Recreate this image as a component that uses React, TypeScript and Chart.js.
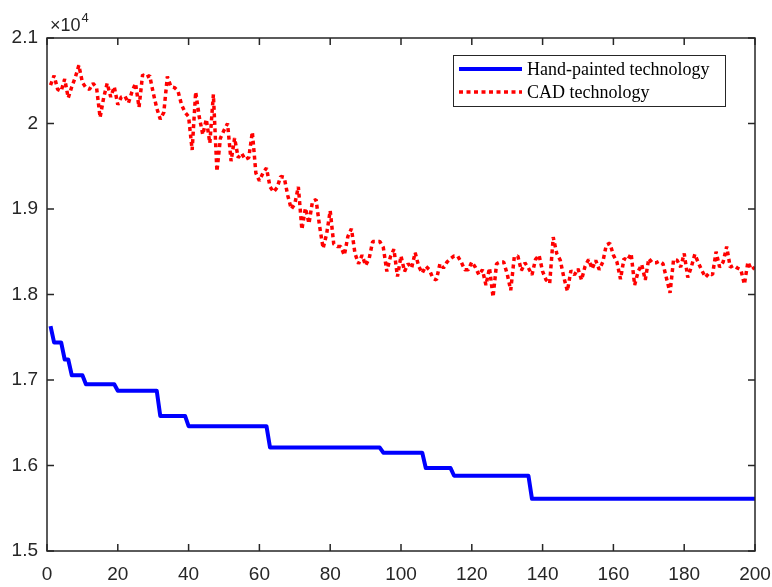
import React, { useEffect, useRef } from "react";
import { Chart, registerables } from "chart.js";

Chart.register(...registerables);

// ---------- data ----------
const xTicks = [0, 20, 40, 60, 80, 100, 120, 140, 160, 180, 200];
const yTicks = [15000, 16000, 17000, 18000, 19000, 20000, 21000];
const seriesLabels = ["Hand-painted technology", "CAD technology"];
const exponentLabel = "\u00d710";
const exponentPower = "4";

// Hand-painted technology: corner points of the step curve
const handX = [1, 2, 4, 5, 6, 7, 10, 11, 19, 20, 31, 32, 39, 40, 62, 63, 94, 95, 106, 107, 114, 115, 136, 137, 200];
const handY = [17630, 17440, 17440, 17240, 17240, 17055, 17055, 16950, 16950, 16875, 16875, 16580, 16580, 16460, 16460, 16210, 16210, 16150, 16150, 15970, 15970, 15880, 15880, 15610, 15610];

// CAD technology: one value per iteration 1..200
const cadY = [
  20450, 20560, 20400, 20380, 20520, 20300, 20430, 20540, 20680, 20480,
  20420, 20400, 20470, 20420, 20070, 20300, 20470, 20310, 20430, 20220,
  20310, 20320, 20240, 20370, 20470, 20190, 20570, 20540, 20560, 20360,
  20180, 20050, 20130, 20550, 20430, 20420, 20380, 20220, 20130, 20080,
  19690, 20370, 20080, 19870, 20050, 19770, 20340, 19440, 19830, 19920,
  20000, 19560, 19830, 19600, 19650, 19580, 19600, 19900, 19420, 19330,
  19420, 19480, 19260, 19200, 19250, 19380, 19370, 19160, 19000, 19060,
  19260, 18760, 19010, 18830, 19090, 19110, 18800, 18540, 18710, 18980,
  18590, 18560, 18560, 18460, 18680, 18770, 18480, 18360, 18460, 18340,
  18420, 18620, 18620, 18620, 18550, 18270, 18440, 18530, 18210, 18450,
  18270, 18360, 18310, 18490, 18330, 18250, 18330, 18290, 18190, 18170,
  18360, 18310, 18380, 18420, 18450, 18450, 18380, 18290, 18290, 18380,
  18320, 18230, 18290, 18110, 18310, 17970, 18360, 18380, 18380, 18240,
  18050, 18440, 18450, 18280, 18370, 18310, 18230, 18410, 18460, 18270,
  18170, 18130, 18670, 18480, 18400, 18200, 18040, 18280, 18230, 18300,
  18170, 18330, 18410, 18300, 18400, 18290, 18380, 18580, 18600, 18460,
  18380, 18180, 18420, 18400, 18480, 18110, 18270, 18350, 18170, 18420,
  18370, 18370, 18390, 18360, 18190, 18020, 18410, 18400, 18320, 18480,
  18200, 18320, 18470, 18370, 18280, 18200, 18250, 18230, 18500, 18320,
  18380, 18560, 18320, 18340, 18310, 18290, 18120, 18380, 18290, 18320,
];

const AXIS_COLOR = "#262626";
const SANS = '"Liberation Sans", Arial, Helvetica, sans-serif';
const SERIF = '"Liberation Serif", "Times New Roman", serif';

const matlabPlugin = {
  id: "matlabFrame",
  afterDraw(chart: any) {
    const { ctx, chartArea: a, scales } = chart;
    ctx.save();
    // box
    ctx.strokeStyle = AXIS_COLOR;
    ctx.lineWidth = 1.5;
    ctx.strokeRect(a.left, a.top, a.right - a.left, a.bottom - a.top);
    // inward ticks, mirrored on all sides
    const tl = 7;
    ctx.beginPath();
    for (const t of xTicks) {
      const px = scales.x.getPixelForValue(t);
      ctx.moveTo(px, a.bottom);
      ctx.lineTo(px, a.bottom - tl);
      ctx.moveTo(px, a.top);
      ctx.lineTo(px, a.top + tl);
    }
    for (const t of yTicks) {
      const py = scales.y.getPixelForValue(t);
      ctx.moveTo(a.left, py);
      ctx.lineTo(a.left + tl, py);
      ctx.moveTo(a.right, py);
      ctx.lineTo(a.right - tl, py);
    }
    ctx.stroke();

    // exponent label
    ctx.fillStyle = AXIS_COLOR;
    ctx.textAlign = "left";
    ctx.textBaseline = "alphabetic";
    ctx.font = `18px ${SANS}`;
    const ex = a.left + 3;
    const ey = a.top - 7;
    ctx.fillText(exponentLabel, ex, ey);
    const w = ctx.measureText(exponentLabel).width;
    ctx.font = `13px ${SANS}`;
    ctx.fillText(exponentPower, ex + w + 1, ey - 9);

    // legend
    const bx = a.right - 302;
    const by = a.top + 17;
    const bw = 272;
    const bh = 51;
    ctx.fillStyle = "#ffffff";
    ctx.fillRect(bx, by, bw, bh);
    ctx.strokeStyle = AXIS_COLOR;
    ctx.lineWidth = 1;
    ctx.strokeRect(bx + 0.5, by + 0.5, bw, bh);
    chart.data.datasets.forEach((ds: any, i: number) => {
      const ly = by + 14 + i * 23;
      ctx.save();
      ctx.strokeStyle = ds.borderColor;
      ctx.lineWidth = ds.borderWidth;
      ctx.setLineDash(ds.borderDash || []);
      ctx.beginPath();
      ctx.moveTo(bx + 6, ly);
      ctx.lineTo(bx + 69, ly);
      ctx.stroke();
      ctx.restore();
      ctx.fillStyle = "#000000";
      ctx.font = `18px ${SERIF}`;
      ctx.textBaseline = "middle";
      ctx.textAlign = "left";
      ctx.fillText(ds.label, bx + 74, ly + 1);
    });
    ctx.restore();
  },
};

export default function App() {
  const canvasRef = useRef<HTMLCanvasElement | null>(null);

  useEffect(() => {
    if (!canvasRef.current) return;
    const handData = handX.map((x, i) => ({ x, y: handY[i] }));
    const cadData = cadY.map((y, i) => ({ x: i + 1, y }));
    const chart = new Chart(canvasRef.current, {
      type: "line",
      data: {
        datasets: [
          {
            label: seriesLabels[0],
            data: handData,
            borderColor: "#0000ff",
            borderWidth: 4,
            borderJoinStyle: "round",
            pointRadius: 0,
            tension: 0,
            fill: false,
          },
          {
            label: seriesLabels[1],
            data: cadData,
            borderColor: "#ff0000",
            borderWidth: 3.5,
            borderDash: [4, 3.5],
            borderJoinStyle: "bevel",
            pointRadius: 0,
            tension: 0,
            fill: false,
          },
        ],
      },
      options: {
        animation: false,
        responsive: true,
        maintainAspectRatio: false,
        parsing: false as any,
        layout: { padding: { left: 0, right: 17, top: 38, bottom: 0 } },
        plugins: {
          legend: { display: false },
          tooltip: { enabled: false },
        },
        scales: {
          x: {
            type: "linear",
            min: 0,
            max: 200,
            grid: { display: false, drawTicks: false },
            border: { display: false },
            afterFit: (s: any) => {
              s.height = 36;
              s.paddingLeft = 0;
              s.paddingRight = 0;
            },
            afterBuildTicks: (s: any) => {
              s.ticks = xTicks.map((v) => ({ value: v }));
            },
            ticks: {
              color: AXIS_COLOR,
              padding: 12,
              maxRotation: 0,
              autoSkip: false,
              font: { family: SANS, size: 19 },
              callback: (v: any) => String(v),
            },
          },
          y: {
            type: "linear",
            min: 15000,
            max: 21000,
            grid: { display: false, drawTicks: false },
            border: { display: false },
            afterFit: (s: any) => {
              s.width = 47;
              s.paddingTop = 0;
              s.paddingBottom = 0;
            },
            afterBuildTicks: (s: any) => {
              s.ticks = yTicks.map((v) => ({ value: v }));
            },
            ticks: {
              color: AXIS_COLOR,
              padding: 9,
              autoSkip: false,
              font: { family: SANS, size: 19 },
              callback: (v: any) => Number((Number(v) / 10000).toFixed(1)).toString(),
            },
          },
        },
      },
      plugins: [matlabPlugin],
    });
    return () => chart.destroy();
  }, []);

  return (
    <div
      style={{
        position: "fixed",
        left: 0,
        top: 0,
        width: 772,
        height: 587,
        background: "#ffffff",
      }}
    >
      <canvas ref={canvasRef} />
    </div>
  );
}
